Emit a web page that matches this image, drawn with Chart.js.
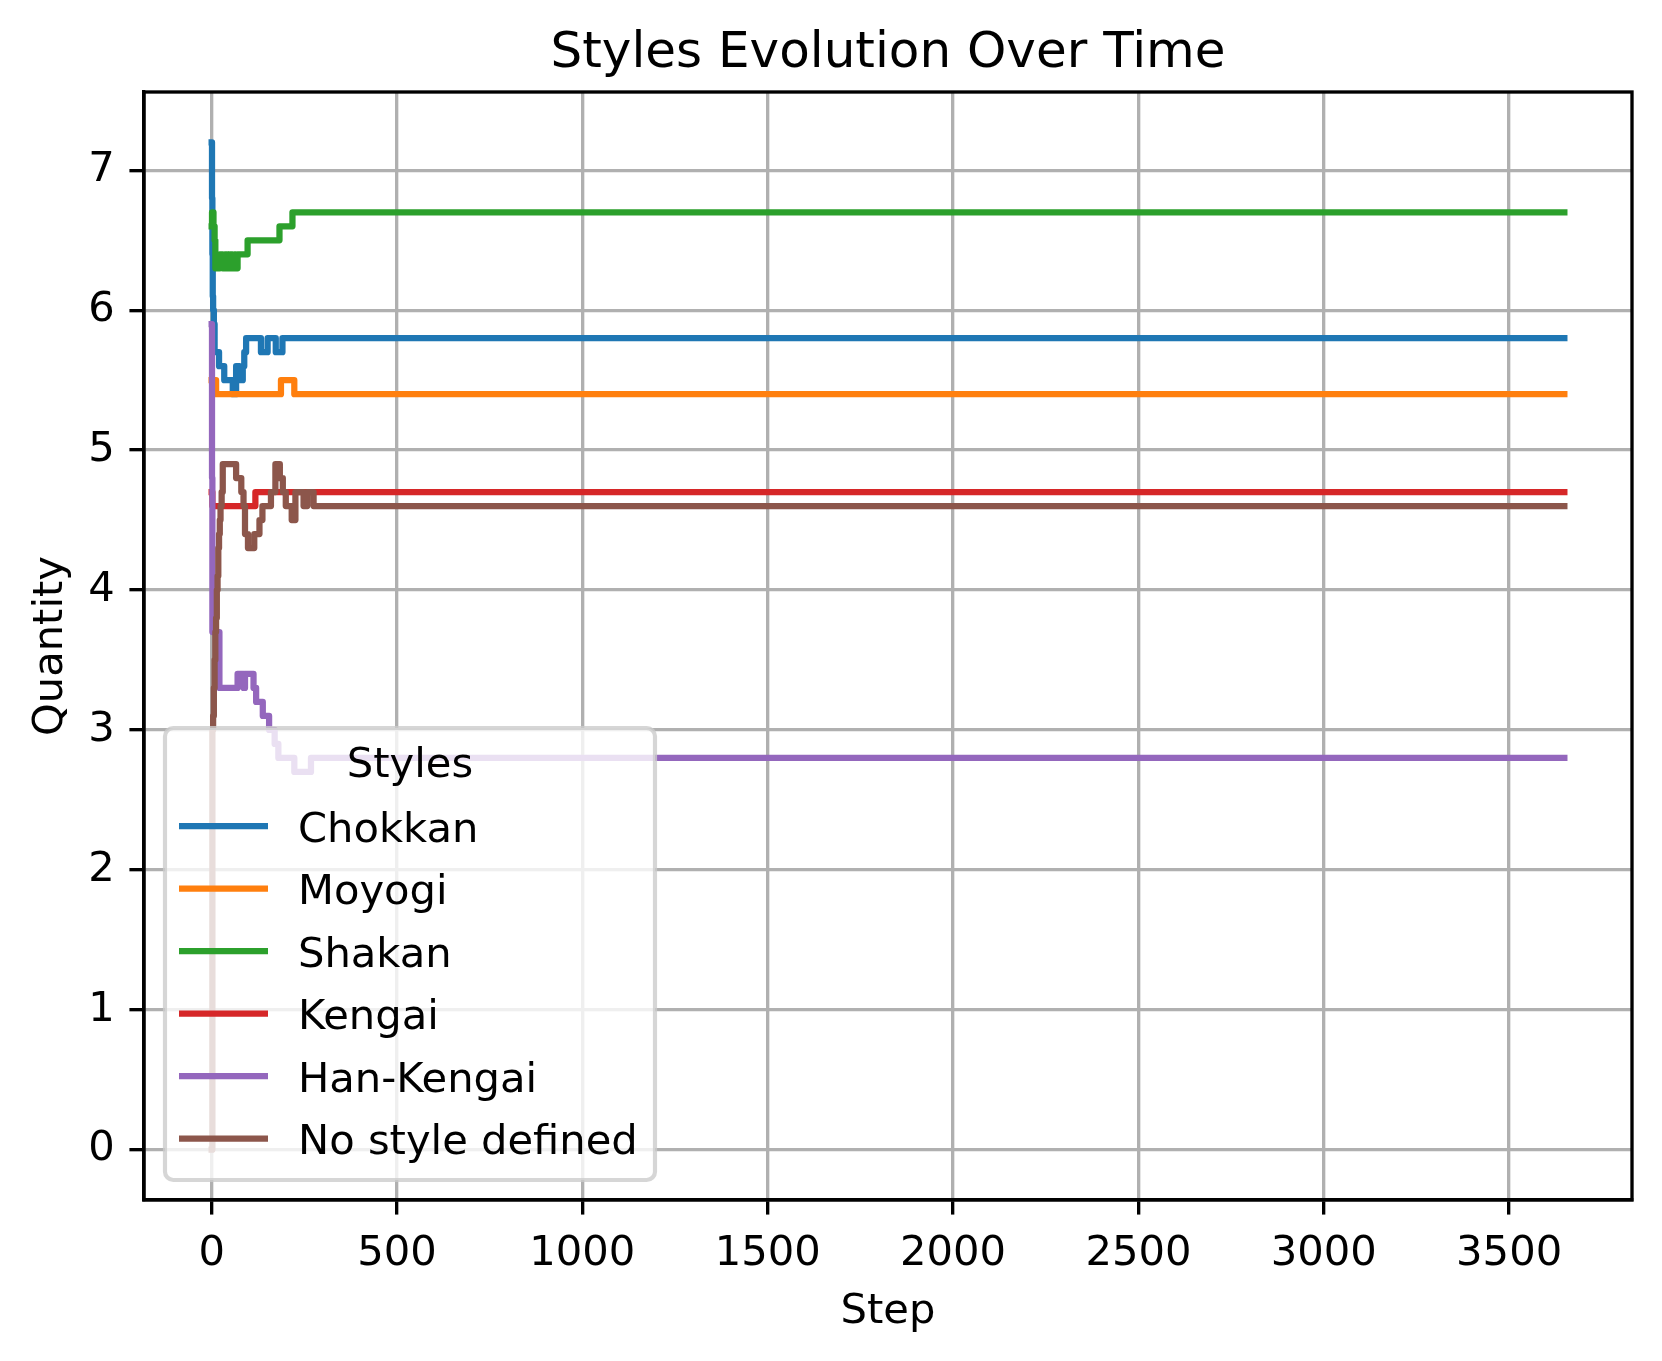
<!DOCTYPE html>
<html><head><meta charset="utf-8">
<script src="https://cdn.jsdelivr.net/npm/chart.js@4"></script>
<style>html,body{margin:0;padding:0;background:#fff;} canvas{display:block;}</style>
</head><body>
<canvas id="c" width="1662" height="1361" style="width:1662px;height:1361px"></canvas>
<script>
// ---- data (change points: value holds from its step onward) ----
const chartTitle = 'Styles Evolution Over Time';
const xLabel = 'Step';
const yLabel = 'Quantity';
const legendTitle = 'Styles';
const seriesNames = ['Chokkan', 'Moyogi', 'Shakan', 'Kengai', 'Han-Kengai', 'No style defined'];
const xTicks = [0, 500, 1000, 1500, 2000, 2500, 3000, 3500];
const yTicks = [0, 1, 2, 3, 4, 5, 6, 7];
const lastStep = 3649;

const chokkanSteps  = [0, 1, 2, 3, 4, 6, 8, 20, 34, 57, 66, 75, 84, 88, 93, 133, 151, 173, 191, 3649];
const chokkanValues = [7.2, 6.8, 6.4, 6.1, 6.0, 5.9, 5.7, 5.6, 5.5, 5.4, 5.6, 5.5, 5.6, 5.7, 5.8, 5.7, 5.8, 5.7, 5.8, 5.8];

const moyogiSteps  = [0, 12, 187, 223, 3649];
const moyogiValues = [5.5, 5.4, 5.5, 5.4, 5.4];

const shakanSteps  = [0, 1, 5, 8, 10, 13, 18, 22, 30, 36, 42, 50, 56, 62, 65, 70, 97, 183, 218, 3649];
const shakanValues = [6.6, 6.7, 6.6, 6.5, 6.3, 6.4, 6.3, 6.4, 6.3, 6.4, 6.3, 6.4, 6.3, 6.4, 6.3, 6.4, 6.5, 6.6, 6.7, 6.7];

const kengaiSteps  = [0, 2, 118, 3649];
const kengaiValues = [4.7, 4.6, 4.7, 4.7];

const hanKengaiSteps  = [0, 1, 2, 21, 70, 86, 90, 113, 120, 138, 155, 170, 180, 223, 268, 3649];
const hanKengaiValues = [5.9, 4.8, 3.7, 3.3, 3.4, 3.3, 3.4, 3.3, 3.2, 3.1, 3.0, 2.9, 2.8, 2.7, 2.8, 2.8];

const noStyleSteps  = [0, 2, 4, 6, 8, 10, 12, 14, 16, 18, 20, 22, 24, 27, 30, 66, 80, 86, 90, 98, 115, 129, 137, 160, 172, 184, 192, 200, 216, 226, 248, 258, 275, 3649];
const noStyleValues = [0, 3.0, 3.1, 3.3, 3.5, 3.7, 3.8, 4.0, 4.1, 4.3, 4.4, 4.5, 4.6, 4.7, 4.9, 4.8, 4.7, 4.6, 4.4, 4.3, 4.4, 4.5, 4.6, 4.7, 4.9, 4.8, 4.7, 4.6, 4.5, 4.7, 4.6, 4.7, 4.6, 4.6];

const colors = ['#1f77b4', '#ff7f0e', '#2ca02c', '#d62728', '#9467bd', '#8c564b'];

// ---- build ----
const stepsList = [chokkanSteps, moyogiSteps, shakanSteps, kengaiSteps, hanKengaiSteps, noStyleSteps];
const valuesList = [chokkanValues, moyogiValues, shakanValues, kengaiValues, hanKengaiValues, noStyleValues];

const PT = 300 / 72;           // px per point
const FONT = '"DejaVu Sans", "Liberation Sans", sans-serif';
const margin = lastStep * 0.05;
const yMaxData = 7.2, yMinData = 0;
const yMargin = (yMaxData - yMinData) * 0.05;

const datasets = seriesNames.map((name, i) => ({
  label: name,
  data: stepsList[i].map((s, k) => ({x: s, y: valuesList[i][k]})),
  borderColor: colors[i],
  backgroundColor: colors[i],
  borderWidth: 1.5 * PT,
  pointRadius: 0,
  stepped: 'before',
  fill: false,
  borderCapStyle: 'square',
  borderJoinStyle: 'round',
  order: seriesNames.length - 1 - i
}));

const deco = {
  id: 'deco',
  afterDatasetsDraw(chart) {
    const ctx = chart.ctx, a = chart.chartArea;
    ctx.save();
    // spines
    ctx.strokeStyle = '#000';
    ctx.lineWidth = 0.8 * PT;
    ctx.strokeRect(a.left, a.top, a.right - a.left, a.bottom - a.top);

    // legend
    const lx0 = 165, ly0 = 728, lx1 = 655, ly1 = 1180, r = 8.3;
    ctx.beginPath();
    ctx.moveTo(lx0 + r, ly0);
    ctx.lineTo(lx1 - r, ly0); ctx.arcTo(lx1, ly0, lx1, ly0 + r, r);
    ctx.lineTo(lx1, ly1 - r); ctx.arcTo(lx1, ly1, lx1 - r, ly1, r);
    ctx.lineTo(lx0 + r, ly1); ctx.arcTo(lx0, ly1, lx0, ly1 - r, r);
    ctx.lineTo(lx0, ly0 + r); ctx.arcTo(lx0, ly0, lx0 + r, ly0, r);
    ctx.closePath();
    ctx.fillStyle = 'rgba(255,255,255,0.8)';
    ctx.fill();
    ctx.strokeStyle = 'rgba(204,204,204,0.8)';
    ctx.lineWidth = 1.0 * PT;
    ctx.stroke();

    ctx.fillStyle = '#000';
    ctx.font = (10 * PT) + 'px ' + FONT;
    ctx.textAlign = 'center';
    ctx.textBaseline = 'alphabetic';
    ctx.fillText(legendTitle, (lx0 + lx1) / 2, 777);
    ctx.textAlign = 'left';
    seriesNames.forEach((name, i) => {
      const base = 841.7 + 62.5 * i;
      const hy = base - 15.5;
      ctx.strokeStyle = colors[i];
      ctx.lineWidth = 1.5 * PT;
      ctx.lineCap = 'butt';
      ctx.beginPath(); ctx.moveTo(179, hy); ctx.lineTo(268, hy); ctx.stroke();
      ctx.fillStyle = '#000';
      ctx.fillText(name, 298, base);
    });

    // title & axis labels
    ctx.fillStyle = '#000';
    ctx.textAlign = 'center';
    ctx.font = (12 * PT) + 'px ' + FONT;
    ctx.fillText(chartTitle, (a.left + a.right) / 2, 67);
    ctx.font = (10 * PT) + 'px ' + FONT;
    ctx.fillText(xLabel, (a.left + a.right) / 2, 1323);
    ctx.translate(62, (a.top + a.bottom) / 2);
    ctx.rotate(-Math.PI / 2);
    ctx.fillText(yLabel, 0, 0);
    ctx.restore();
  }
};

const axisCommon = {
  grid: { color: '#b0b0b0', lineWidth: 0.8 * PT, tickLength: 3.5 * PT, tickColor: '#000', tickWidth: 0.8 * PT, drawTicks: true },
  border: { display: true, color: '#000', width: 0.8 * PT },
  ticks: { color: '#000', font: { family: FONT, size: 10 * PT }, padding: 3.5 * PT, maxRotation: 0, autoSkip: false, callback: v => String(v) }
};

new Chart(document.getElementById('c'), {
  type: 'line',
  data: { datasets },
  options: {
    responsive: false,
    devicePixelRatio: 1,
    animation: false,
    layout: { padding: { top: 92, right: 30, left: 0, bottom: 0 } },
    plugins: { legend: { display: false }, title: { display: false }, tooltip: { enabled: false } },
    scales: {
      x: Object.assign({}, axisCommon, {
        type: 'linear',
        min: -margin, max: lastStep + margin,
        afterBuildTicks: s => { s.ticks = xTicks.map(v => ({ value: v })); },
        afterFit: s => { s.height = 161; }
      }),
      y: Object.assign({}, axisCommon, {
        type: 'linear',
        min: yMinData - yMargin, max: yMaxData + yMargin,
        afterBuildTicks: s => { s.ticks = yTicks.map(v => ({ value: v })); },
        afterFit: s => { s.width = 144; }
      })
    }
  },
  plugins: [deco]
});
</script>
</body></html>
